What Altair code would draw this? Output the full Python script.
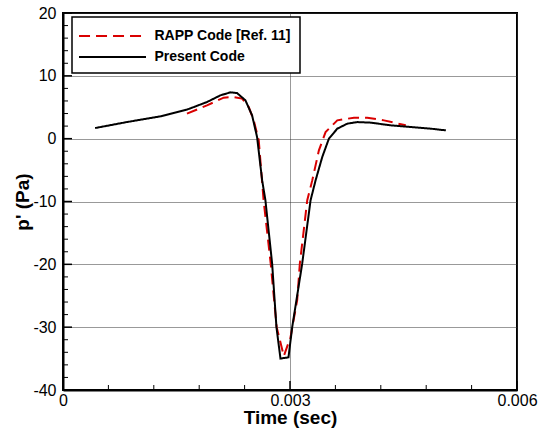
import altair as alt
import pandas as pd

# ---- data ----
time_present = [0.000424, 0.000843, 0.001285, 0.001638, 0.001903, 0.002079, 0.002212, 0.002300,
                0.002411, 0.002499, 0.002565, 0.002632, 0.002675, 0.002764, 0.002821, 0.002874,
                0.002980, 0.003029, 0.003161, 0.003272, 0.003338, 0.003426, 0.003514, 0.003625,
                0.003758, 0.003890, 0.004066, 0.004331, 0.004596, 0.004861, 0.005060]
p_present = [1.69, 2.64, 3.55, 4.62, 5.83, 6.89, 7.37, 7.26,
             6.10, 3.71, 0.25, -6.64, -9.8, -19.9, -30.0, -35.0,
             -34.8, -30.0, -19.9, -9.8, -6.64, -2.93, 0.0, 1.59,
             2.39, 2.64, 2.55, 2.12, 1.85, 1.59, 1.32]

time_rapp = [0.001638, 0.001903, 0.002124, 0.002256, 0.002367, 0.002455, 0.002521, 0.002587,
             0.002651, 0.002745, 0.002824, 0.002918, 0.003007, 0.003095, 0.003130, 0.003228,
             0.003294, 0.003382, 0.003470, 0.003625, 0.003845, 0.004021, 0.004242, 0.004530]
p_rapp = [3.98, 5.30, 6.53, 6.62, 6.37, 5.03, 2.91, -0.27,
          -9.8, -19.9, -30.0, -34.6, -31.6, -25.7, -19.9, -9.8,
          -6.64, -1.86, 1.05, 2.91, 3.34, 3.34, 2.91, 2.12]

series_names = ["RAPP Code [Ref. 11]", "Present Code"]
series_colors = ["#d90000", "#000000"]

x_major = [0, 0.003, 0.006]
x_minor = [0.0006, 0.0012, 0.0018, 0.0024, 0.0036, 0.0042, 0.0048, 0.0054]
y_major = [-40, -30, -20, -10, 0, 10, 20]
y_minor = [-38, -36, -34, -32, -28, -26, -24, -22, -18, -16, -14, -12,
           -8, -6, -4, -2, 2, 4, 6, 8, 12, 14, 16, 18]

W, H = 454, 377

df = pd.concat([
    pd.DataFrame({"t": time_rapp, "p": p_rapp, "series": series_names[0]}),
    pd.DataFrame({"t": time_present, "p": p_present, "series": series_names[1]}),
], ignore_index=True)

xscale = alt.Scale(domain=[0, 0.006], nice=False, zero=False)
yscale = alt.Scale(domain=[-40, 20], nice=False, zero=False)

x_axis = alt.Axis(values=x_major, title="Time (sec)", labelExpr="datum.value + ''",
                  ticks=False, grid=True, labelPadding=2, labelFlush=False,
                  titleX=W / 2, titleY=27.5, titleBaseline="middle", titleAlign="center")
y_axis = alt.Axis(values=y_major, title="p' (Pa)", labelExpr="datum.value + ''",
                  ticks=False, grid=True, labelPadding=7, labelFlush=False,
                  titleX=-41, titleY=H / 2, titleBaseline="middle", titleAlign="center",
                  titleAngle=270)

color_enc = alt.Color("series:N", scale=alt.Scale(domain=series_names, range=series_colors),
                      legend=alt.Legend(title=None))
dash_enc = alt.StrokeDash("series:N",
                          scale=alt.Scale(domain=series_names, range=[[11, 6], [1, 0]]),
                          legend=alt.Legend(title=None))

base = alt.Chart(df).mark_line(strokeWidth=2, clip=True).encode(
    x=alt.X("t:Q", scale=xscale, axis=x_axis),
    y=alt.Y("p:Q", scale=yscale, axis=y_axis),
    color=color_enc, strokeDash=dash_enc,
)
rapp_line = base.transform_filter(alt.datum.series == series_names[0])
present_line = base.transform_filter(alt.datum.series == series_names[1])

# inward tick marks
xt_minor = alt.Chart(pd.DataFrame({"t": x_minor})).mark_rule(color="black", strokeWidth=1).encode(
    x=alt.X("t:Q", scale=xscale, axis=x_axis), y=alt.value(H), y2=alt.value(H - 5))
xt_major = alt.Chart(pd.DataFrame({"t": x_major})).mark_rule(color="black", strokeWidth=1.5).encode(
    x=alt.X("t:Q", scale=xscale, axis=x_axis), y=alt.value(H), y2=alt.value(H - 9))
yt_minor = alt.Chart(pd.DataFrame({"p": y_minor})).mark_rule(color="black", strokeWidth=1).encode(
    y=alt.Y("p:Q", scale=yscale, axis=y_axis), x=alt.value(0), x2=alt.value(5))
yt_major = alt.Chart(pd.DataFrame({"p": y_major})).mark_rule(color="black", strokeWidth=1.5).encode(
    y=alt.Y("p:Q", scale=yscale, axis=y_axis), x=alt.value(0), x2=alt.value(9))

chart = alt.layer(rapp_line, present_line, xt_minor, xt_major, yt_minor, yt_major).properties(
    width=W, height=H,
    padding={"left": 63, "top": 13, "right": 21, "bottom": 45},
    autosize=alt.AutoSizeParams(type="none"),
).configure_view(
    stroke="black", strokeWidth=2
).configure_axis(
    domainColor="black", domainWidth=2,
    labelFont="Liberation Sans", labelFontSize=16, labelColor="black",
    titleFont="Liberation Sans", titleFontSize=19, titleFontWeight="bold", titleColor="black",
    gridColor="#333333", gridDash=[1, 1], gridWidth=1,
).configure_legend(
    orient="none", legendX=9, legendY=4,
    fillColor="white", strokeColor="black", strokeWidth=1.5,
    padding=9, rowPadding=4,
    symbolType="M-3.72,0H3.72", symbolSize=324, symbolStrokeWidth=2, symbolOffset=21.5,
    labelFont="Liberation Sans", labelFontSize=14, labelFontWeight="bold", labelColor="black",
    labelOffset=32,
)

chart.save("out.html", embed_options={"renderer": "svg", "actions": False})
